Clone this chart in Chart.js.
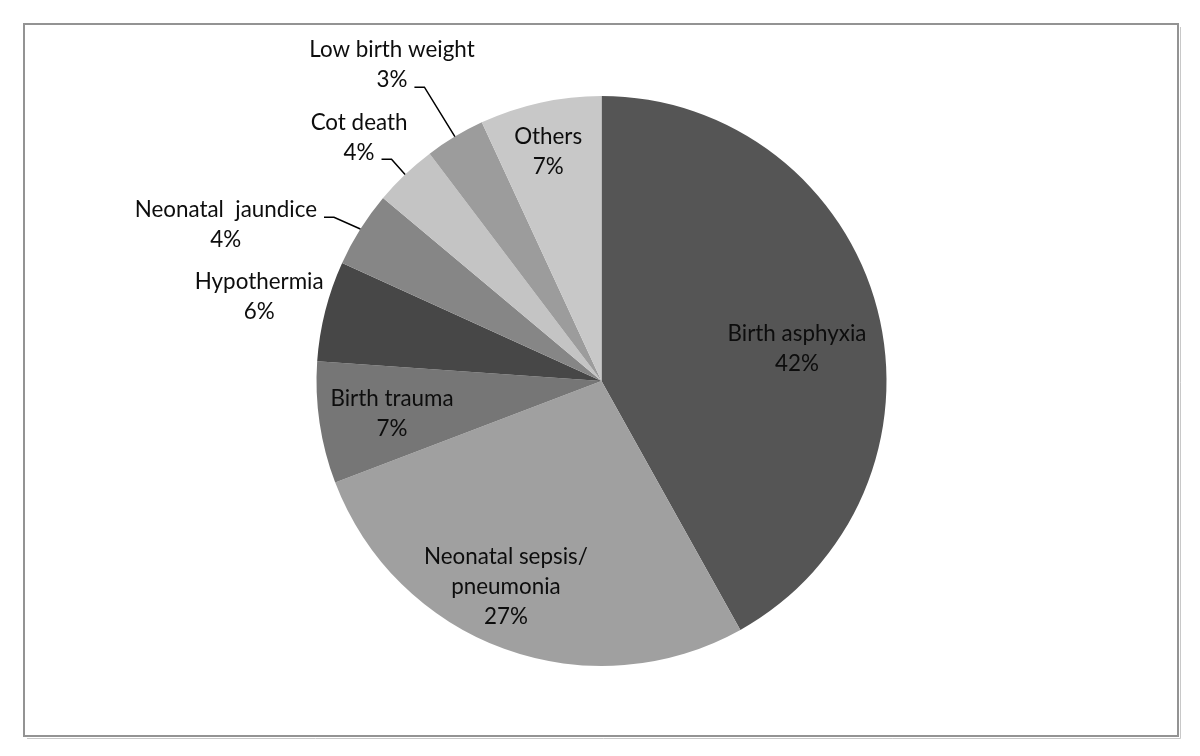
<!DOCTYPE html>
<html>
<head>
<meta charset="utf-8">
<script src="https://cdn.jsdelivr.net/npm/chart.js@4"></script>
<style>
  html, body { margin: 0; padding: 0; background: #ffffff; }
  #wrap { position: relative; width: 1200px; height: 756px; }
</style>
</head>
<body>
<div id="wrap"><canvas id="pie" width="1200" height="756"></canvas></div>
<script>
// --- DATA ---
const causes = [
  ['Birth asphyxia'],
  ['Neonatal sepsis/', 'pneumonia'],
  ['Birth trauma'],
  ['Hypothermia'],
  ['Neonatal  jaundice'],
  ['Cot death'],
  ['Low birth weight'],
  ['Others']
];
const shares = [41.9, 27.3, 6.9, 5.7, 4.3, 3.6, 3.4, 6.9];
const sliceColors = ['#555555', '#a0a0a0', '#767676', '#474747', '#868686', '#c4c4c4', '#9c9c9c', '#c8c8c8'];

// --- LABEL LAYOUT (radius fraction, angle shift in degrees, leader line attached to line n or -1) ---
const labelRadius = [0.695, 0.797, 0.744, 1.237, 1.427, 1.206, 1.330, 0.825];
const labelShift = [5.3, 4.9, -0.4, -0.4, -9.7, -1.3, -2.6, -0.7];
const leaderLine = [-1, -1, -1, -1, 0, 1, 1, -1];

const FONT = '22.4px Lato, "Open Sans", sans-serif';
const LINE_H = 30;

// frame around the whole picture
const framePlugin = {
  id: 'frame',
  beforeDraw(chart) {
    const c = chart.ctx;
    c.save();
    c.fillStyle = '#ffffff';
    c.fillRect(0, 0, chart.width, chart.height);
    // soft shadow on right and bottom
    c.strokeStyle = '#c8c8c8';
    c.lineWidth = 1;
    c.beginPath();
    c.moveTo(1180.5, 27);
    c.lineTo(1180.5, 738.5);
    c.lineTo(27, 738.5);
    c.stroke();
    c.strokeStyle = '#939393';
    c.lineWidth = 2;
    c.strokeRect(24, 24, 1154, 712);
    c.restore();
  }
};

// slice labels, placed from each arc's own geometry
const labelPlugin = {
  id: 'sliceLabels',
  afterDatasetsDraw(chart) {
    const c = chart.ctx;
    const arcs = chart.getDatasetMeta(0).data;
    c.save();
    c.font = FONT;
    c.fillStyle = '#0d0d0d';
    c.textAlign = 'center';
    c.textBaseline = 'middle';
    arcs.forEach((arc, i) => {
      const p = arc.getProps(['x', 'y', 'startAngle', 'endAngle', 'outerRadius'], true);
      const mid = (p.startAngle + p.endAngle) / 2;
      const a = mid + labelShift[i] * Math.PI / 180;
      const r = p.outerRadius * labelRadius[i];
      const cx = p.x + Math.cos(a) * r;
      const cy = p.y + Math.sin(a) * r;
      const lines = causes[i].concat([Math.round(shares[i]) + '%']);
      const top = cy - (lines.length - 1) * LINE_H / 2;
      lines.forEach((t, k) => c.fillText(t, cx, top + k * LINE_H));

      if (leaderLine[i] >= 0) {
        const k = leaderLine[i];
        const w = c.measureText(lines[k]).width;
        const sx = cx + w / 2 + 7;
        const sy = top + k * LINE_H + 7;
        const ex = p.x + Math.cos(mid) * p.outerRadius;
        const ey = p.y + Math.sin(mid) * p.outerRadius;
        c.beginPath();
        c.strokeStyle = '#000000';
        c.lineWidth = 1.5;
        c.moveTo(sx, sy);
        c.lineTo(sx + 10, sy);
        c.lineTo(ex, ey);
        c.stroke();
      }
    });
    c.restore();
  }
};

const ctx = document.getElementById('pie').getContext('2d');
new Chart(ctx, {
  type: 'pie',
  data: {
    labels: causes.map(l => l.join(' ')),
    datasets: [{
      data: shares,
      backgroundColor: sliceColors,
      borderWidth: 0
    }]
  },
  options: {
    responsive: false,
    animation: false,
    layout: { padding: { top: 96, bottom: 90, left: 3, right: 0 } },
    plugins: {
      legend: { display: false },
      tooltip: { enabled: false }
    }
  },
  plugins: [framePlugin, labelPlugin]
});
</script>
</body>
</html>
